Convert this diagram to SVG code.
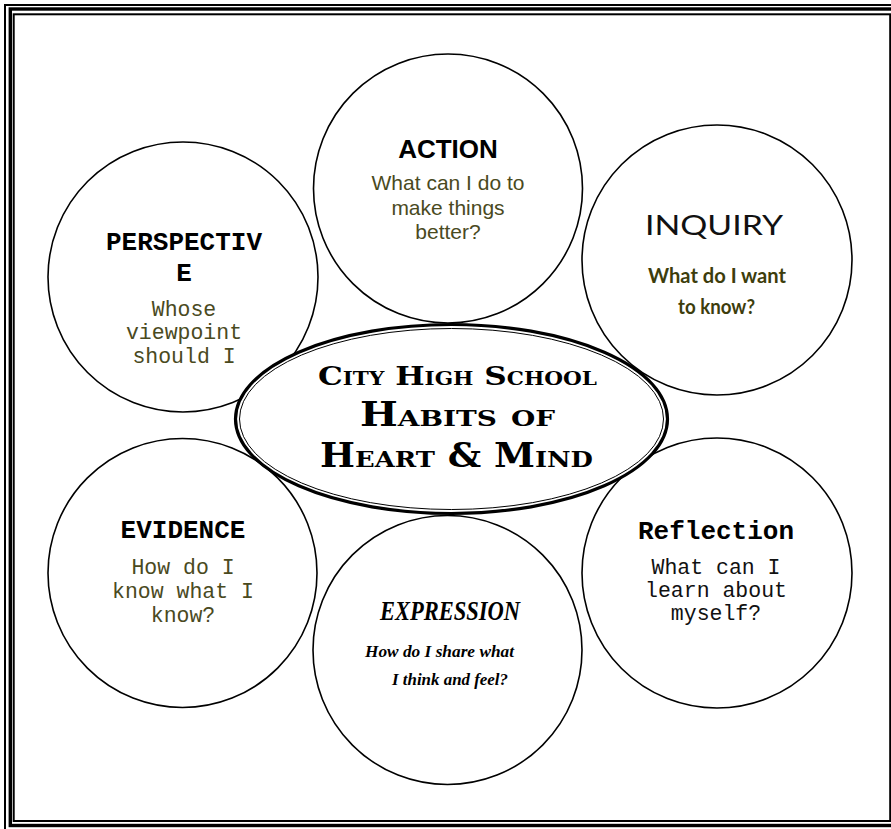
<svg xmlns="http://www.w3.org/2000/svg" width="891" height="829" viewBox="0 0 891 829">
<style>
.circ{fill:#fff;stroke:#000;stroke-width:1.6}
.mono{font-family:"Liberation Mono","Courier New",monospace;text-anchor:middle}
.monob{font-family:"Liberation Mono","Courier New",monospace;font-weight:bold;text-anchor:middle;font-size:26px;fill:#000}
.sub{font-size:21.5px;fill:#4a4a1e}
.sans{font-family:"Liberation Sans",Arial,sans-serif;text-anchor:middle}
.cop{font-family:"DejaVu Serif",serif;font-weight:bold;font-variant:small-caps;text-anchor:middle;fill:#000}
.inq{font-family:Lato,"Open Sans",sans-serif;text-anchor:middle}
.scr{font-family:"Liberation Serif","Times New Roman",serif;font-style:italic;font-weight:bold;fill:#000}
</style>
<rect width="891" height="829" fill="#fff"/>
<g id="border" fill="none" stroke="#000">
<rect x="5" y="5" width="894" height="826" stroke-width="2"/>
<rect x="10.3" y="9" width="883" height="816.5" stroke-width="3.4"/>
<rect x="13.7" y="14.3" width="876.5" height="806.7" stroke-width="2"/>
</g>
<g id="connectors"></g>
<g id="action">
<circle class="circ" cx="448" cy="188.5" r="134.5"/>
<text class="sans" x="448" y="158" font-size="26" font-weight="bold">ACTION</text>
<text class="sans" font-size="21" fill="#4a4a1e"><tspan x="448" y="190">What can I do to</tspan><tspan x="448" y="215">make things</tspan><tspan x="448" y="239">better?</tspan></text>
</g>
<g id="inquiry">
<circle class="circ" cx="717" cy="260" r="135"/>
<text class="inq" x="714" y="235" font-size="27" fill="#111" textLength="138" lengthAdjust="spacingAndGlyphs">INQUIRY</text>
<text class="inq" x="717" y="283" font-size="21" font-weight="bold" fill="#3d3d0c" textLength="138" lengthAdjust="spacingAndGlyphs">What do I want</text>
<text class="inq" x="716.5" y="314" font-size="21" font-weight="bold" fill="#3d3d0c" textLength="77" lengthAdjust="spacingAndGlyphs">to know?</text>
</g>
<g id="perspective">
<circle class="circ" cx="183" cy="277" r="135"/>
<text class="monob"><tspan x="184" y="250">PERSPECTIV</tspan><tspan x="184" y="281">E</tspan></text>
<text class="mono sub"><tspan x="184" y="316">Whose</tspan><tspan x="184" y="339">viewpoint</tspan><tspan x="184" y="363">should I</tspan></text>
</g>
<g id="evidence">
<circle class="circ" cx="182.5" cy="573" r="134.5"/>
<text class="monob" x="183" y="538">EVIDENCE</text>
<text class="mono sub"><tspan x="183" y="574">How do I</tspan><tspan x="183" y="598">know what I</tspan><tspan x="183" y="622">know?</tspan></text>
</g>
<g id="reflection">
<circle class="circ" cx="717" cy="573" r="135"/>
<text class="monob" x="716" y="539">Reflection</text>
<text class="mono sub" style="fill:#111"><tspan x="716" y="574">What can I</tspan><tspan x="716" y="597">learn about</tspan><tspan x="716" y="620">myself?</tspan></text>
</g>
<g id="expression">
<circle class="circ" cx="447.5" cy="650" r="134.5"/>
<text class="scr" x="380" y="620" font-size="27" textLength="140" lengthAdjust="spacingAndGlyphs">EXPRESSION</text>
<text class="scr" x="365" y="657" font-size="17" textLength="149" lengthAdjust="spacingAndGlyphs">How do I share what</text>
<text class="scr" x="392" y="685" font-size="17" textLength="116" lengthAdjust="spacingAndGlyphs">I think and feel?</text>
</g>
<g id="center">
<ellipse cx="451.5" cy="419" rx="216" ry="94.5" fill="#fff" stroke="#000" stroke-width="3.2"/>
<ellipse cx="451.5" cy="419" rx="212" ry="90.5" fill="none" stroke="#000" stroke-width="1"/>
<text class="cop" x="457.5" y="385" font-size="26" textLength="279" lengthAdjust="spacingAndGlyphs">City High School</text>
<text class="cop" x="457.5" y="426" font-size="33" textLength="195" lengthAdjust="spacingAndGlyphs">Habits of</text>
<text class="cop" x="456.5" y="467" font-size="33" textLength="273" lengthAdjust="spacingAndGlyphs">Heart &amp; Mind</text>
</g>
</svg>
